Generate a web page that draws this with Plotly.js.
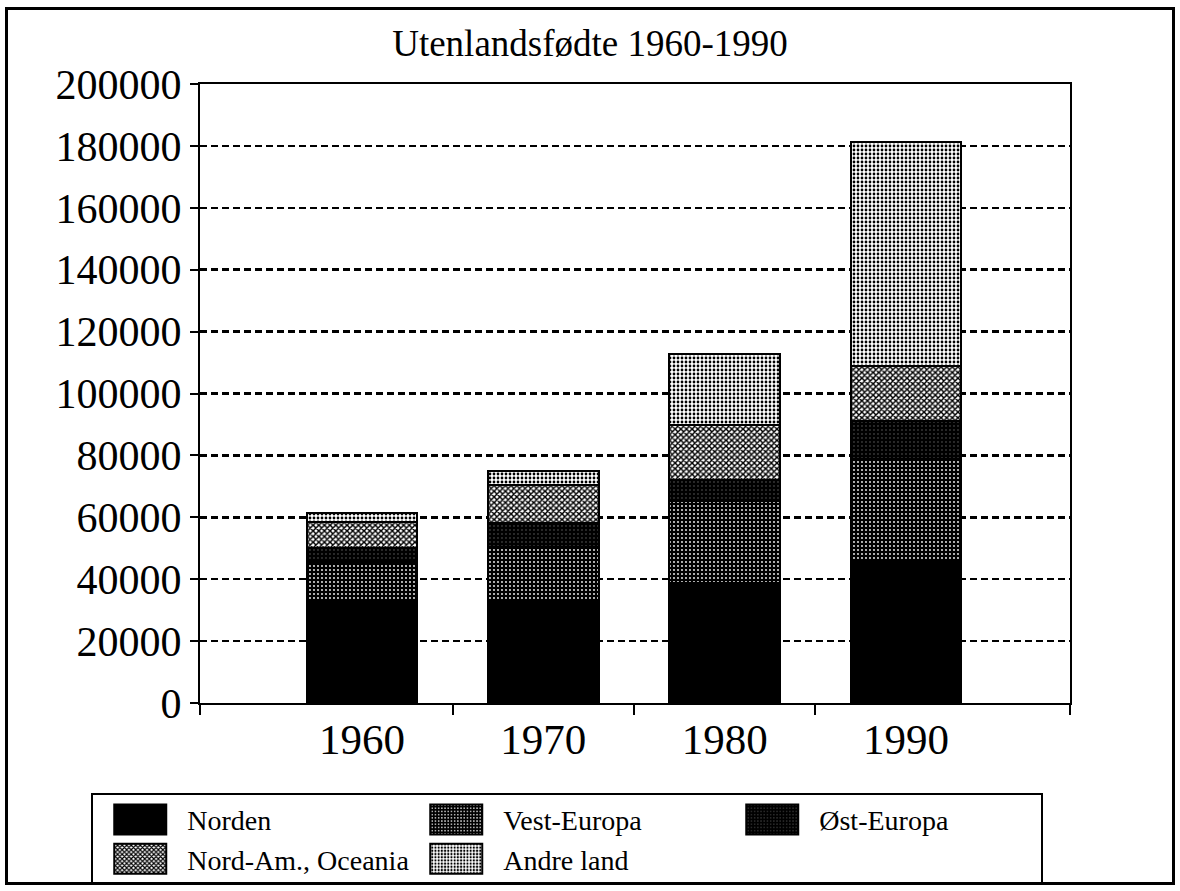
<!DOCTYPE html>
<html>
<head>
<meta charset="utf-8">
<script src="https://cdn.plot.ly/plotly-3.0.1.min.js"></script>
<style>
  html, body { margin: 0; padding: 0; background: #fff; }
  #frame { position: absolute; left: 5px; top: 7px; width: 1170px; height: 878px; border: 3px solid #000; box-sizing: border-box; background: #fff; }
  #chart { position: absolute; left: 0; top: 0; }
</style>
</head>
<body>
<div id="frame"><div id="chart"></div></div>
<script>
// ---- data ----
const years = ['1960', '1970', '1980', '1990'];
const norden = [32600, 33400, 38700, 45600];
const vestEuropa = [13000, 17100, 26500, 33100];
const ostEuropa = [4500, 7700, 6700, 12300];
const nordAmOceania = [8400, 12300, 17800, 18000];
const andreLand = [3000, 4500, 23100, 72200];
const seriesNames = ['Norden', 'Vest-Europa', 'Øst-Europa', 'Nord-Am., Oceania', 'Andre land'];
const yTicks = [0, 20000, 40000, 60000, 80000, 100000, 120000, 140000, 160000, 180000, 200000];

// ---- construction ----
const xIdx = years.map((_, i) => i);
const boundaries = years.slice(1).map((_, i) => i + 0.5);
const xRange = [-0.894, 3.905];

const styles = [
  { color: '#000000', pattern: { shape: '' } },
  { color: '#000000', pattern: { shape: '.', fgcolor: '#ffffff', bgcolor: '#000000', size: 4, solidity: 0.16 } },
  { color: '#000000', pattern: { shape: '.', fgcolor: '#666666', bgcolor: '#000000', size: 4, solidity: 0.1 } },
  { color: '#ffffff', pattern: { shape: 'x', fgcolor: '#000000', bgcolor: '#ffffff', size: 4, solidity: 0.6 } },
  { color: '#ffffff', pattern: { shape: '.', fgcolor: '#000000', bgcolor: '#ffffff', size: 4, solidity: 0.38 } }
];
const values = [norden, vestEuropa, ostEuropa, nordAmOceania, andreLand];

const traces = values.map((v, i) => ({
  type: 'bar',
  name: seriesNames[i],
  x: xIdx,
  y: v,
  width: 0.61,
  marker: { color: styles[i].color, pattern: styles[i].pattern, line: { color: '#000', width: 2 } },
  hoverinfo: 'skip'
}));

const font = 'Liberation Serif, Times New Roman, serif';

const layout = {
  width: 1164,
  height: 872,
  margin: { l: 192, r: 102, t: 74, b: 179, pad: 0, autoexpand: false },
  paper_bgcolor: '#fff',
  plot_bgcolor: '#fff',
  barmode: 'stack',
  font: { family: font, color: '#000' },
  title: { text: 'Utenlandsfødte 1960-1990', font: { family: font, size: 37, color: '#000' }, x: 0.5, xref: 'container', y: 0.962, yref: 'container', yanchor: 'middle' },
  xaxis: {
    type: 'linear',
    range: xRange,
    tickmode: 'array',
    tickvals: xIdx,
    ticktext: years,
    ticks: '',
    ticklabelstandoff: -3,
    showgrid: false,
    zeroline: false,
    showline: true,
    linecolor: '#000',
    linewidth: 2,
    mirror: true,
    automargin: false,
    tickfont: { family: font, size: 43, color: '#000' },
    minor: { tickmode: 'array', tickvals: [xRange[0]].concat(boundaries, [xRange[1]]), ticks: 'outside', ticklen: 10, tickwidth: 2, tickcolor: '#000', showgrid: false }
  },
  yaxis: {
    range: [0, 200000],
    tickmode: 'array',
    tickvals: yTicks,
    tickformat: 'd',
    ticks: 'outside',
    ticklen: 8,
    tickwidth: 2,
    tickcolor: '#000',
    ticklabelstandoff: 0,
    showgrid: true,
    gridcolor: '#000',
    gridwidth: 2.5,
    griddash: '7px,4px',
    zeroline: false,
    showline: true,
    linecolor: '#000',
    linewidth: 2,
    mirror: true,
    automargin: false,
    tickfont: { family: font, size: 42, color: '#000' }
  },
  yaxis2: {
    overlaying: 'y',
    anchor: 'x',
    side: 'left',
    range: [0, 200000],
    tickmode: 'array',
    tickvals: yTicks,
    ticks: 'inside',
    ticklen: 7,
    tickwidth: 2,
    tickcolor: '#000',
    showticklabels: false,
    showgrid: false,
    zeroline: false,
    showline: false,
    automargin: false
  },
  showlegend: true,
  legend: {
    orientation: 'h',
    x: -0.125,
    xanchor: 'left',
    y: -0.145,
    yanchor: 'top',
    traceorder: 'normal',
    entrywidth: 217,
    entrywidthmode: 'pixels',
    itemwidth: 84,
    bgcolor: '#fff',
    bordercolor: '#000',
    borderwidth: 2,
    font: { family: font, size: 28, color: '#000' }
  }
};

Plotly.newPlot('chart', traces, layout, { displayModeBar: false, staticPlot: true }).then(gd => {
  gd.querySelectorAll('.legend .legendpoints path').forEach(p => {
    p.setAttribute('d', 'M26,15H-26V-15H26Z');
  });
});
</script>
</body>
</html>
